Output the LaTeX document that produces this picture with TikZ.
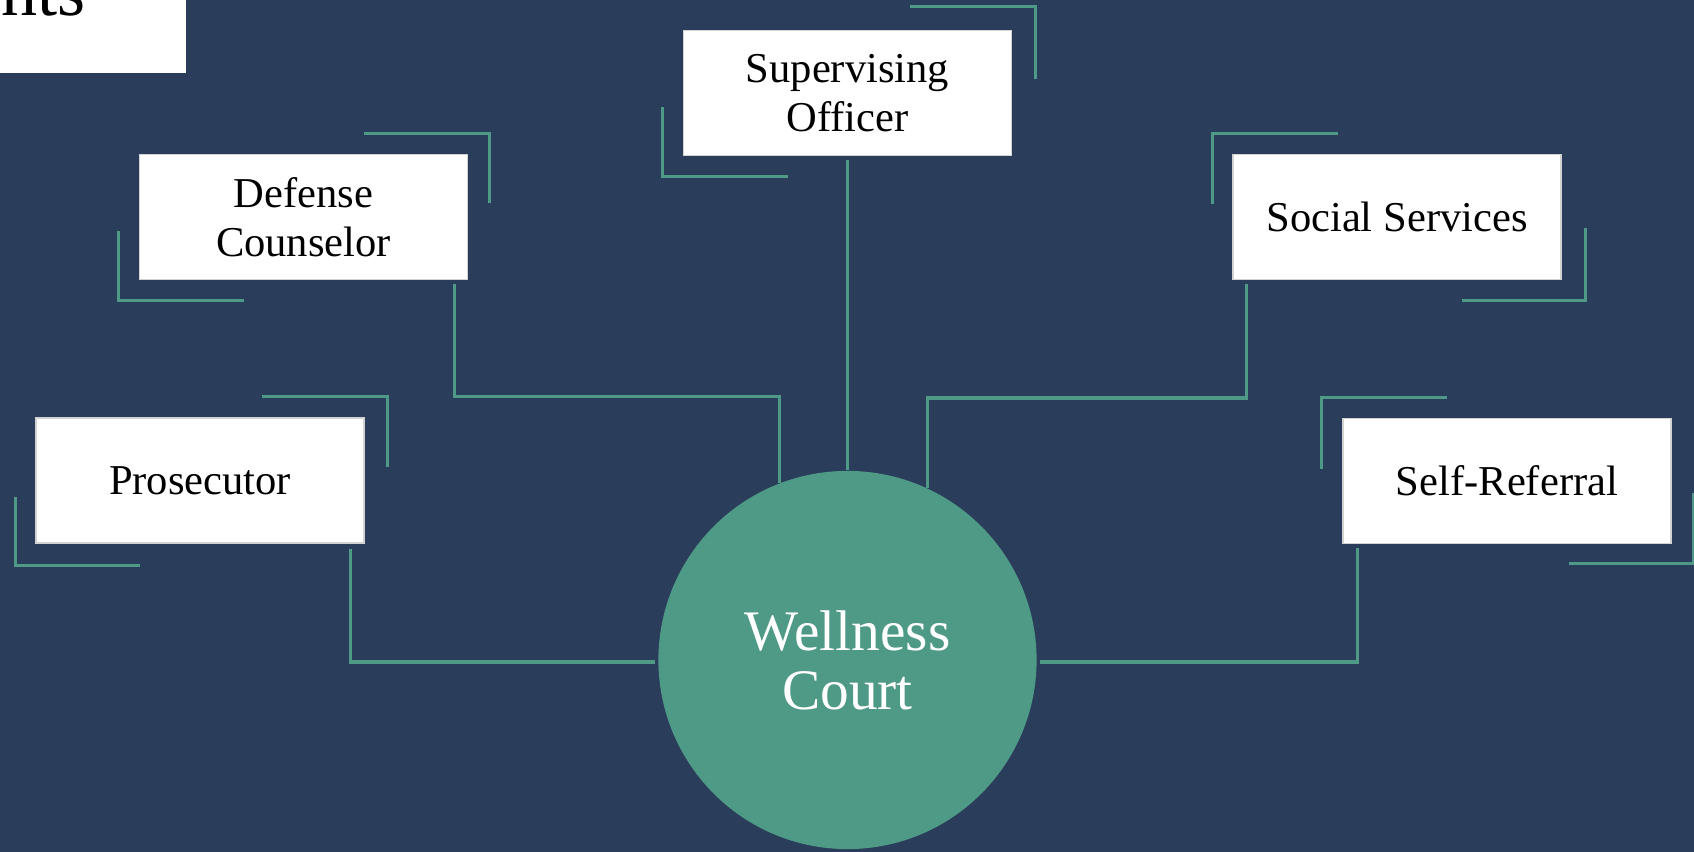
\documentclass[tikz,border=0pt]{standalone}
\usepackage{fontspec}
\setmainfont{Liberation Serif}
\usepackage{tikz}
\usetikzlibrary{calc,positioning}

\definecolor{navy}{RGB}{42,61,90}
\definecolor{courtgreen}{RGB}{78,154,134}

\tikzset{
  party/.style={draw=gray!35, line width=0.4pt, fill=white, text=black,
    minimum width=3.28cm, minimum height=1.25cm, inner sep=0pt, align=center,
    font=\fontsize{12.1}{13.8}\selectfont},
  hub/.style={circle, fill=courtgreen, text=white, minimum size=3.78cm,
    inner sep=0pt, align=center, font=\fontsize{16.3}{16.8}\selectfont},
  link/.style={draw=courtgreen, line width=0.9pt},
  frame/.style={draw=courtgreen, line width=0.9pt}
}

\begin{document}
\begin{tikzpicture}[x=0.01cm,y=-0.01cm]
        \useasboundingbox (0,0) rectangle (1694,852);
        \clip (0,0) rectangle (1694,852);
        \fill[navy] (0,0) rectangle (1694,852);

        % title box, cut by the page edge
        \fill[white] (0,-10) rectangle (186,73);
        \node[anchor=base east, inner sep=0pt, font=\fontsize{20.5}{24}\selectfont] (title) at (86,16) {nts};

        % referral sources
        \node[party] (super) at (847.5,93) {Supervising\\Officer};
        \node[party] (defense) at (303.5,217) {Defense\\Counselor};
        \node[party] (prosecutor) at (200,480.5) {Prosecutor};
        \node[party] (social) at (1397,217) {Social Services};
        \node[party] (self) at (1507,481) {Self-Referral};
        \node[hub] (court) at (847.5,660) {Wellness\\Court};

        % corner brackets
        \draw[frame] ($(super.north east)+(-102,-23)$) -- ++(125,0) -- ++(0,72);
        \draw[frame] ($(super.south west)+(-20,-49)$) -- ++(0,69) -- ++(125,0);
        \draw[frame] ($(defense.north east)+(-104,-20)$) -- ++(125,0) -- ++(0,69);
        \draw[frame] ($(defense.south west)+(-20,-49)$) -- ++(0,69) -- ++(125,0);
        \draw[frame] ($(prosecutor.north east)+(-103,-21)$) -- ++(126,0) -- ++(0,71);
        \draw[frame] ($(prosecutor.south west)+(-20,-47)$) -- ++(0,69) -- ++(125,0);
        \draw[frame] ($(social.north west)+(-20,50)$) -- ++(0,-70) -- ++(126,0);
        \draw[frame] ($(social.south east)+(-100,20)$) -- ++(124,0) -- ++(0,-72);
        \draw[frame] ($(self.north west)+(-21,51)$) -- ++(0,-71) -- ++(126,0);
        \draw[frame] ($(self.south east)+(-103,19)$) -- ++(125,0) -- ++(0,-70);

        % connectors
        \draw[link] ($(super.south)+(0,4)$) -- (court.north);
        \draw[link] ($(defense.south east)+(-14,4)$) |- ($(court.111.5)+(0,-86)$) -- (court.111.5);
        \draw[link] ($(social.south west)+(14,4)$) |- ($(court.65.5)+(0,-90)$) -- (court.65.5);
        \draw[link] ($(prosecutor.south east)+(-14,5)$) |- ($(court.west)+(-3,2)$);
        \draw[link] ($(self.south west)+(15,4)$) |- ($(court.east)+(3,2)$);
    \end{tikzpicture}
\end{document}
